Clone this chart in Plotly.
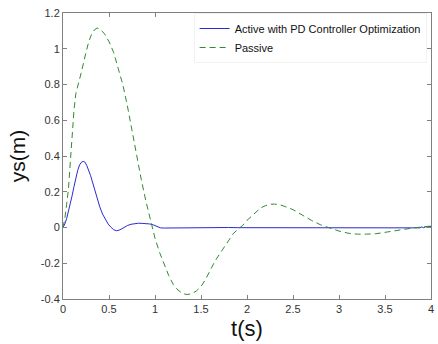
import plotly.graph_objects as go

# Passive response (green dashed)
t_passive = [0, 0.02, 0.04, 0.06, 0.08, 0.10, 0.12, 0.14, 0.16, 0.18, 0.20, 0.22, 0.25, 0.28,
             0.31, 0.34, 0.37, 0.40, 0.45, 0.50, 0.55, 0.60, 0.65, 0.70, 0.75, 0.80, 0.85, 0.90,
             0.95, 1.00, 1.05, 1.10, 1.15, 1.20, 1.25, 1.30, 1.35, 1.40, 1.45, 1.50, 1.55, 1.60,
             1.65, 1.70, 1.75, 1.80, 1.85, 1.90, 1.95, 2.00, 2.05, 2.10, 2.15, 2.20, 2.25, 2.30,
             2.35, 2.40, 2.50, 2.60, 2.70, 2.80, 2.90, 3.00, 3.10, 3.20, 3.30, 3.40, 3.50, 3.60,
             3.70, 3.80, 3.90, 4.00]
ys_passive = [0, 0.05, 0.13, 0.22, 0.37, 0.53, 0.66, 0.75, 0.80, 0.83, 0.87, 0.92, 0.98, 1.04,
              1.08, 1.105, 1.116, 1.11, 1.085, 1.04, 0.98, 0.89, 0.80, 0.68, 0.54, 0.40, 0.27, 0.15,
              0.04, -0.06, -0.14, -0.21, -0.27, -0.32, -0.35, -0.37, -0.375, -0.37, -0.355, -0.33, -0.29, -0.24,
              -0.19, -0.15, -0.11, -0.07, -0.035, -0.01, 0.01, 0.04, 0.065, 0.09, 0.11, 0.122, 0.13, 0.131,
              0.128, 0.12, 0.10, 0.07, 0.04, 0.015, -0.003, -0.02, -0.032, -0.037, -0.037, -0.035, -0.027, -0.018,
              -0.01, -0.003, 0.003, 0.008]

# Active response with PD controller optimization (blue solid)
t_active = [0, 0.02, 0.04, 0.06, 0.08, 0.10, 0.12, 0.14, 0.16, 0.18, 0.20, 0.22, 0.24, 0.26,
            0.28, 0.30, 0.32, 0.34, 0.36, 0.38, 0.40, 0.43, 0.46, 0.49, 0.52, 0.55, 0.58, 0.61,
            0.64, 0.67, 0.70, 0.74, 0.78, 0.82, 0.86, 0.90, 0.94, 0.98, 1.02, 1.06, 1.10, 1.20,
            1.30, 1.40, 1.50, 1.60, 1.70, 1.80, 1.90, 2.00, 2.10, 2.16,
            2.18, 2.20, 2.22, 2.24, 2.26, 2.28, 2.30, 2.32, 2.34, 2.36, 2.38, 2.40, 2.42, 2.44,
            2.46, 2.48, 2.50, 2.52, 2.54, 2.56, 2.58, 2.60, 2.62, 2.64, 2.66, 2.68, 2.70, 2.72,
            2.74, 2.76, 2.78, 2.80, 2.82, 2.84, 2.86, 2.88, 2.90, 2.92, 2.94, 2.96, 2.98, 3.00,
            3.02, 3.04, 3.06, 3.08, 3.10, 3.12, 3.14, 3.16, 3.18, 3.20, 3.22, 3.24, 3.26, 3.28,
            3.30, 3.32, 3.34, 3.36, 3.38, 3.40, 3.42, 3.44, 3.46, 3.48, 3.50, 3.52, 3.54, 3.56,
            3.58, 3.60, 3.62, 3.64, 3.66, 3.68, 3.70, 3.72, 3.74, 3.76, 3.78, 3.80, 3.82, 3.84,
            3.86, 3.88, 3.90, 3.92, 3.94, 3.96, 3.98, 4.00]
ys_active = [0, 0.02, 0.05, 0.09, 0.13, 0.18, 0.23, 0.28, 0.32, 0.35, 0.365, 0.37, 0.365, 0.345,
             0.32, 0.29, 0.255, 0.22, 0.18, 0.145, 0.115, 0.075, 0.045, 0.02, 0.002, -0.012, -0.018, -0.015,
             -0.007, 0.003, 0.011, 0.018, 0.022, 0.024, 0.023, 0.022, 0.02, 0.015, 0.005, -0.002, -0.003, -0.002,
             -0.002, -0.001, 0.001, 0.001, 0.0, 0.0, -0.001, -0.001, -0.001, 0.0,
             0.002, -0.002, 0.002, -0.002, 0.002, -0.002, 0.002, -0.002, 0.002, -0.002, 0.002, -0.002, 0.002, -0.002,
             0.002, -0.002, 0.002, -0.002, 0.002, -0.002, 0.002, -0.002, 0.002, -0.002, 0.002, -0.002, 0.002, -0.002,
             0.002, -0.002, 0.002, -0.002, 0.002, -0.002, 0.002, -0.002, 0.002, -0.002, 0.002, -0.002, 0.002, -0.002,
             0.002, -0.002, 0.002, -0.002, 0.002, -0.002, 0.002, -0.002, 0.002, -0.002, 0.002, -0.002, 0.002, -0.002,
             0.002, -0.002, 0.002, -0.002, 0.002, -0.002, 0.002, -0.002, 0.002, -0.002, 0.002, -0.002, 0.002, -0.002,
             0.002, -0.002, 0.002, -0.002, 0.002, -0.002, 0.002, -0.002, 0.002, -0.002, 0.002, -0.002, 0.002, -0.002,
             0.002, -0.002, 0.003, -0.001, 0.004, 0.002, 0.005, 0.007]

x_tickvals = [0, 0.5, 1, 1.5, 2, 2.5, 3, 3.5, 4]
x_ticktext = ["0", "0.5", "1", "1.5", "2", "2.5", "3", "3.5", "4"]
y_tickvals = [-0.4, -0.2, 0, 0.2, 0.4, 0.6, 0.8, 1, 1.2]
y_ticktext = ["-0.4", "-0.2", "0", "0.2", "0.4", "0.6", "0.8", "1", "1.2"]

fig = go.Figure()
fig.add_trace(go.Scatter(x=t_active, y=ys_active, mode="lines",
                         name="Active with PD Controller Optimization",
                         line=dict(color="#2b2bd0", width=1)))
fig.add_trace(go.Scatter(x=t_passive, y=ys_passive, mode="lines", name="Passive",
                         line=dict(color="#2e8b2e", width=1, dash="6px,4px")))

axis_common = dict(showgrid=False, zeroline=False, showline=True, linecolor="#808080",
                   linewidth=1, mirror="ticks", ticks="inside", ticklen=4,
                   tickcolor="#808080", tickfont=dict(family="Liberation Sans, Arial", size=11, color="#333333"))

fig.update_layout(
    width=438, height=344,
    margin=dict(l=63, r=4, t=13, b=45),
    paper_bgcolor="white", plot_bgcolor="white",
    font=dict(family="Liberation Sans, Arial", color="#000000"),
    xaxis=dict(range=[0, 4], tickvals=x_tickvals, ticktext=x_ticktext,
               title=dict(text="t(s)", font=dict(size=22, color="#111111"), standoff=6),
               **axis_common),
    yaxis=dict(range=[-0.4, 1.2], tickvals=y_tickvals, ticktext=y_ticktext,
               title=dict(text="ys(m)", font=dict(size=21, color="#111111"), standoff=9),
               **axis_common),
    legend=dict(x=0.355, y=1.0, xanchor="left", yanchor="top",
                bgcolor="white", bordercolor="#f2f2f2", borderwidth=1,
                font=dict(family="Liberation Sans, Arial", size=11, color="#111111"),
                tracegroupgap=0, itemwidth=30),
    showlegend=True,
)

fig.write_html("out.html")
